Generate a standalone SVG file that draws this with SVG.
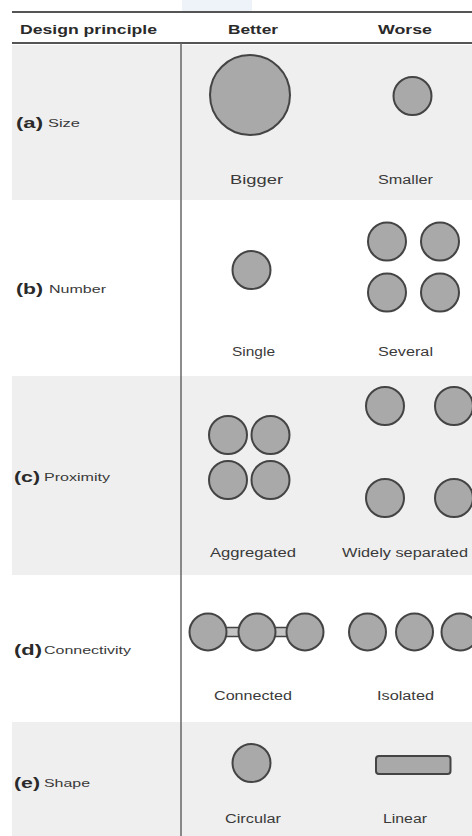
<svg xmlns="http://www.w3.org/2000/svg" width="472" height="836" viewBox="0 0 472 836">
<style>
.bg{fill:#efefef}
.c{fill:#a9a9a9;stroke:#444;stroke-width:2}
.hd{font-family:"Liberation Sans",Arial,sans-serif;font-weight:bold;font-size:13px;fill:#2a2a2a}
.lb{font-family:"Liberation Sans",Arial,sans-serif;font-size:12px;fill:#3a3a3a}
.rl{font-family:"Liberation Sans",Arial,sans-serif;font-weight:bold;font-size:14px;fill:#2a2a2a}
.rn{font-family:"Liberation Sans",Arial,sans-serif;font-size:11px;fill:#3a3a3a}
.bar{fill:#c4c4c4;stroke:#444;stroke-width:1.5}
</style>
<rect width="472" height="836" fill="#ffffff"/>
<rect x="182" y="0" width="70" height="12" fill="#eef3fa"/>
<g id="backgrounds">
<rect class="bg" x="12" y="45" width="460" height="155"/>
<rect class="bg" x="12" y="376" width="460" height="199"/>
<rect class="bg" x="12" y="722" width="460" height="114"/>
</g>
<g id="grid">
<line x1="12" y1="12" x2="472" y2="12" stroke="#555" stroke-width="2"/>
<line x1="12" y1="43" x2="472" y2="43" stroke="#555" stroke-width="2"/>
<line x1="181" y1="43" x2="181" y2="836" stroke="#666" stroke-width="1.5"/>
</g>
<g id="header">
<text class="hd" x="20" y="34" textLength="137" lengthAdjust="spacingAndGlyphs">Design principle</text>
<text class="hd" x="228" y="34" textLength="50" lengthAdjust="spacingAndGlyphs">Better</text>
<text class="hd" x="378" y="34" textLength="54" lengthAdjust="spacingAndGlyphs">Worse</text>
</g>
<g id="row-a">
<text class="rl" x="16" y="128" textLength="27" lengthAdjust="spacingAndGlyphs">(a)</text>
<text class="rn" x="48" y="127" textLength="32" lengthAdjust="spacingAndGlyphs">Size</text>
<circle class="c" cx="250" cy="95" r="40"/>
<circle class="c" cx="412.5" cy="96" r="19"/>
<text class="lb" x="230" y="184" textLength="53" lengthAdjust="spacingAndGlyphs">Bigger</text>
<text class="lb" x="378" y="184" textLength="55" lengthAdjust="spacingAndGlyphs">Smaller</text>
</g>
<g id="row-b">
<text class="rl" x="16" y="294" textLength="27" lengthAdjust="spacingAndGlyphs">(b)</text>
<text class="rn" x="49" y="293" textLength="57" lengthAdjust="spacingAndGlyphs">Number</text>
<circle class="c" cx="251.5" cy="270" r="19"/>
<circle class="c" cx="387" cy="241.5" r="19"/>
<circle class="c" cx="440" cy="241.5" r="19"/>
<circle class="c" cx="387" cy="292.5" r="19"/>
<circle class="c" cx="440" cy="292.5" r="19"/>
<text class="lb" x="232" y="356" textLength="43" lengthAdjust="spacingAndGlyphs">Single</text>
<text class="lb" x="378" y="356" textLength="55" lengthAdjust="spacingAndGlyphs">Several</text>
</g>
<g id="row-c">
<text class="rl" x="14" y="482" textLength="26" lengthAdjust="spacingAndGlyphs">(c)</text>
<text class="rn" x="44" y="481" textLength="66" lengthAdjust="spacingAndGlyphs">Proximity</text>
<circle class="c" cx="228" cy="435" r="19"/>
<circle class="c" cx="270.5" cy="435" r="19"/>
<circle class="c" cx="228" cy="480" r="19"/>
<circle class="c" cx="270.5" cy="480" r="19"/>
<circle class="c" cx="385" cy="406" r="19"/>
<circle class="c" cx="454" cy="406" r="19"/>
<circle class="c" cx="385" cy="498" r="19"/>
<circle class="c" cx="454" cy="498" r="19"/>
<text class="lb" x="210" y="557" textLength="86" lengthAdjust="spacingAndGlyphs">Aggregated</text>
<text class="lb" x="342" y="557" textLength="126" lengthAdjust="spacingAndGlyphs">Widely separated</text>
</g>
<g id="connectors">
<rect class="bar" x="223" y="627.5" width="17" height="9"/>
<rect class="bar" x="272" y="627.5" width="17" height="9"/>
</g>
<g id="row-d">
<text class="rl" x="14" y="655" textLength="28" lengthAdjust="spacingAndGlyphs">(d)</text>
<text class="rn" x="44" y="654" textLength="87" lengthAdjust="spacingAndGlyphs">Connectivity</text>
<circle class="c" cx="208" cy="632" r="18.5"/>
<circle class="c" cx="257" cy="632" r="18.5"/>
<circle class="c" cx="305" cy="632" r="18.5"/>
<circle class="c" cx="367.5" cy="632" r="18.5"/>
<circle class="c" cx="414.5" cy="632" r="18.5"/>
<circle class="c" cx="460" cy="632" r="18.5"/>
<text class="lb" x="214" y="700" textLength="78" lengthAdjust="spacingAndGlyphs">Connected</text>
<text class="lb" x="377" y="700" textLength="57" lengthAdjust="spacingAndGlyphs">Isolated</text>
</g>
<g id="row-e">
<text class="rl" x="14" y="788" textLength="26" lengthAdjust="spacingAndGlyphs">(e)</text>
<text class="rn" x="44" y="787" textLength="46" lengthAdjust="spacingAndGlyphs">Shape</text>
<circle class="c" cx="251.5" cy="763" r="19"/>
<rect class="c" x="376" y="756" width="74.5" height="18" rx="3"/>
<text class="lb" x="225" y="823" textLength="56" lengthAdjust="spacingAndGlyphs">Circular</text>
<text class="lb" x="383" y="823" textLength="44" lengthAdjust="spacingAndGlyphs">Linear</text>
</g>
</svg>
